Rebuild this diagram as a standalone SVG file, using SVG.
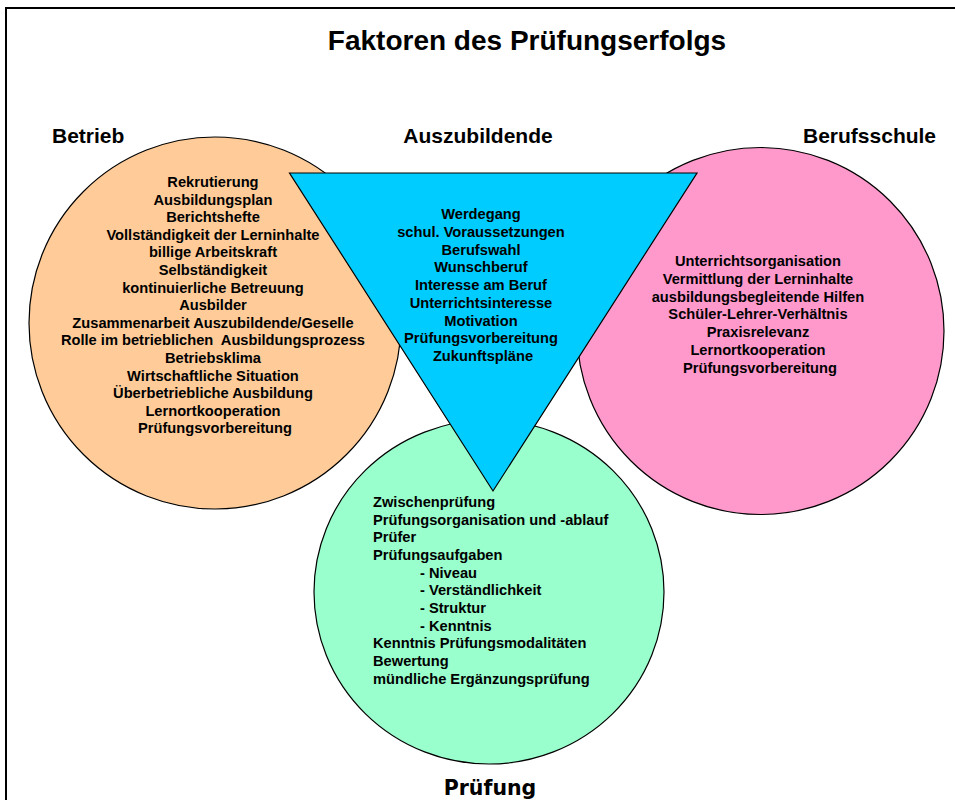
<svg xmlns="http://www.w3.org/2000/svg" width="955" height="800" viewBox="0 0 955 800">
<style>
.t{font-family:"Liberation Sans",Arial,sans-serif;font-weight:bold;fill:#000}
.body{font-size:14.67px}
.lbl{font-size:21px}
.shape{stroke:#000;stroke-width:1.2}
</style>
<rect width="955" height="800" fill="#fff"/>
<rect x="6" y="8" width="970" height="820" fill="none" stroke="#000" stroke-width="2"/>
<text class="t" x="527" y="50" font-size="28" text-anchor="middle">Faktoren des Prüfungserfolgs</text>

<g id="betrieb">
<circle class="shape" cx="215" cy="323" r="186" fill="#FFCC99"/>
<text class="t lbl" x="52" y="143">Betrieb</text>
<text class="t body" text-anchor="middle" x="215" y="187">
<tspan x="215">Rekrutierung</tspan>
<tspan x="215" dy="17.6">Ausbildungsplan</tspan>
<tspan x="215" dy="17.6">Berichtshefte</tspan>
<tspan x="215" dy="17.6">Vollständigkeit der Lerninhalte</tspan>
<tspan x="215" dy="17.6">billige Arbeitskraft</tspan>
<tspan x="215" dy="17.6">Selbständigkeit</tspan>
<tspan x="215" dy="17.6">kontinuierliche Betreuung</tspan>
<tspan x="215" dy="17.6">Ausbilder</tspan>
<tspan x="215" dy="17.6">Zusammenarbeit Auszubildende/Geselle</tspan>
<tspan x="215" dy="17.6" xml:space="preserve">Rolle im betrieblichen  Ausbildungsprozess</tspan>
<tspan x="215" dy="17.6">Betriebsklima</tspan>
<tspan x="215" dy="17.6">Wirtschaftliche Situation</tspan>
<tspan x="215" dy="17.6">Überbetriebliche Ausbildung</tspan>
<tspan x="215" dy="17.6">Lernortkooperation</tspan>
<tspan x="215" dy="17.6">Prüfungsvorbereitung</tspan>
</text>
</g>

<g id="berufsschule">
<circle class="shape" cx="760.5" cy="331" r="183.5" fill="#FF99CC"/>
<text class="t lbl" x="803" y="143">Berufsschule</text>
<text class="t body" text-anchor="middle" x="760" y="266">
<tspan x="760">Unterrichtsorganisation</tspan>
<tspan x="760" dy="17.8">Vermittlung der Lerninhalte</tspan>
<tspan x="760" dy="17.8">ausbildungsbegleitende Hilfen</tspan>
<tspan x="760" dy="17.8">Schüler-Lehrer-Verhältnis</tspan>
<tspan x="760" dy="17.8">Praxisrelevanz</tspan>
<tspan x="760" dy="17.8">Lernortkooperation</tspan>
<tspan x="760" dy="17.8">Prüfungsvorbereitung</tspan>
</text>
</g>

<g id="pruefung">
<ellipse class="shape" cx="489" cy="592" rx="175" ry="172" fill="#99FFCC"/>
<text x="490" y="795" text-anchor="middle" font-family="'DejaVu Sans',Verdana,sans-serif" font-weight="bold" font-size="20.5">Prüfung</text>
<text class="t body" x="373" y="507">
<tspan x="373">Zwischenprüfung</tspan>
<tspan x="373" dy="17.66">Prüfungsorganisation und -ablauf</tspan>
<tspan x="373" dy="17.66">Prüfer</tspan>
<tspan x="373" dy="17.66">Prüfungsaufgaben</tspan>
<tspan x="420" dy="17.66">- Niveau</tspan>
<tspan x="420" dy="17.66">- Verständlichkeit</tspan>
<tspan x="420" dy="17.66">- Struktur</tspan>
<tspan x="420" dy="17.66">- Kenntnis</tspan>
<tspan x="373" dy="17.66">Kenntnis Prüfungsmodalitäten</tspan>
<tspan x="373" dy="17.66">Bewertung</tspan>
<tspan x="373" dy="17.66">mündliche Ergänzungsprüfung</tspan>
</text>
</g>

<g id="auszubildende">
<polygon class="shape" points="289.5,173 697,173 493,491" fill="#00CCFF"/>
<text class="t lbl" x="478" y="143" text-anchor="middle">Auszubildende</text>
<text class="t body" text-anchor="middle" x="483" y="219">
<tspan x="483">Werdegang</tspan>
<tspan x="483" dy="17.75">schul. Voraussetzungen</tspan>
<tspan x="483" dy="17.75">Berufswahl</tspan>
<tspan x="483" dy="17.75">Wunschberuf</tspan>
<tspan x="483" dy="17.75">Interesse am Beruf</tspan>
<tspan x="483" dy="17.75">Unterrichtsinteresse</tspan>
<tspan x="483" dy="17.75">Motivation</tspan>
<tspan x="483" dy="17.75">Prüfungsvorbereitung</tspan>
<tspan x="483" dy="17.75">Zukunftspläne</tspan>
</text>
</g>
</svg>
